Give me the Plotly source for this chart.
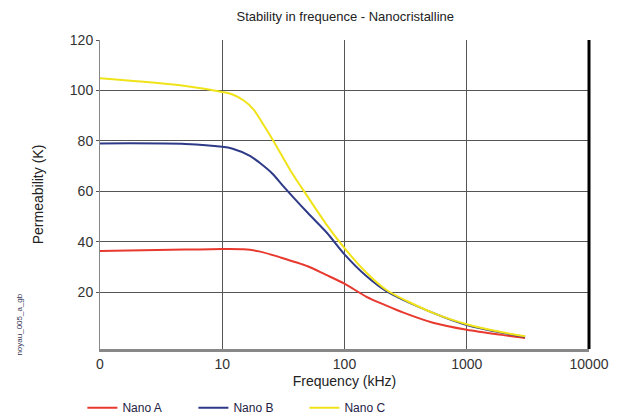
import plotly.graph_objects as go

title = "Stability in frequence - Nanocristalline"
x_title = "Frequency (kHz)"
y_title = "Permeability (K)"
watermark = "noyau_005_a_gb"

x_tick_vals = [1, 10, 100, 1000, 10000]
x_tick_text = ["0", "10", "100", "1000", "10000"]
y_tick_vals = [20, 40, 60, 80, 100, 120]

freq_a = [1, 5, 10, 15, 20, 30, 50, 70, 100, 150, 220, 300, 530, 1000, 2000, 3000]
nano_a = [36.4, 36.9, 37.1, 37.0, 36.2, 33.8, 30.3, 27.0, 23.4, 18.3, 14.7, 12.0, 7.9, 5.1, 3.0, 1.9]

freq_b = [1, 5, 10, 12, 17, 20, 26, 31, 50, 72, 100, 150, 220, 530, 1000, 2000, 3000]
nano_b = [79.0, 78.8, 77.7, 77.0, 74.0, 71.5, 66.8, 62.5, 51.5, 43.5, 35.0, 26.5, 20.4, 11.8, 7.0, 3.8, 2.4]

freq_c = [1, 5, 10, 12, 15, 18, 22, 26, 36, 49, 72, 100, 152, 220, 530, 1000, 2000, 3000]
nano_c = [104.8, 101.8, 99.4, 98.5, 96.0, 92.5, 86.0, 80.3, 68.4, 58.5, 46.5, 37.5, 27.6, 20.9, 11.8, 7.3, 4.0, 2.6]

series = [
    ("Nano A", freq_a, nano_a, "#e8392f"),
    ("Nano B", freq_b, nano_b, "#2e3a87"),
    ("Nano C", freq_c, nano_c, "#f0e31a"),
]

fig = go.Figure()
for name, xs, ys, color in series:
    fig.add_trace(go.Scatter(
        x=xs, y=ys, name=name, mode="lines",
        line=dict(color=color, width=2, shape="spline", smoothing=0.8),
    ))

font_family = "Liberation Sans, Arial, sans-serif"

fig.update_layout(
    width=630, height=419,
    margin=dict(l=100, r=41, t=40, b=70, autoexpand=False),
    paper_bgcolor="white", plot_bgcolor="white",
    font=dict(family=font_family, size=13, color="#333333"),
    title=dict(text=title, x=0.548, xanchor="center", y=0.96, yanchor="middle",
               font=dict(size=13, color="#222222")),
    showlegend=True,
    legend=dict(orientation="h", x=-0.036, xanchor="left", y=-0.19, yanchor="middle",
                font=dict(size=12, color="#222244"), itemwidth=30,
                tracegroupgap=0, entrywidth=66, entrywidthmode="pixels"),
    xaxis=dict(
        type="log", range=[0, 4], automargin=False,
        tickvals=x_tick_vals, ticktext=x_tick_text,
        showgrid=True, gridcolor="#555555", gridwidth=1,
        showline=True, linecolor="#888888", linewidth=3,
        ticks="", tickfont=dict(size=14, color="#333333"),
        title=dict(text=x_title, font=dict(size=14, color="#222222"), standoff=6),
        zeroline=False,
    ),
    yaxis=dict(
        range=[-2.5, 120], automargin=False,
        tickvals=y_tick_vals,
        showgrid=True, gridcolor="#555555", gridwidth=1,
        showline=True, linecolor="#888888", linewidth=1,
        ticks="outside", ticklen=3, tickcolor="#555555",
        tickfont=dict(size=14, color="#333333"),
        title=dict(text=y_title, font=dict(size=14, color="#222222"), standoff=22),
        zeroline=False,
    ),
)

fig.add_shape(type="line", xref="paper", yref="paper", x0=1, x1=1, y0=0, y1=1,
              line=dict(color="black", width=3))

fig.add_annotation(text=watermark, xref="paper", yref="paper",
                   x=-0.165, y=0.08, textangle=-90, showarrow=False,
                   font=dict(size=8, color="#333355"), xanchor="center", yanchor="middle")

fig.write_html("out.html", config={"displayModeBar": False},
               post_script="document.body.style.margin='0';")
